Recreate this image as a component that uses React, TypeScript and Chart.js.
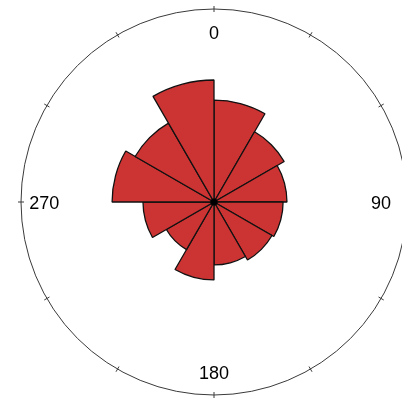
import React, { useEffect, useRef } from "react";
import { Chart, registerables } from "chart.js";

Chart.register(...registerables);

// 12 direction bins of 30° (clockwise from north)
const bins = ["0-30", "30-60", "60-90", "90-120", "120-150", "150-180", "180-210", "210-240", "240-270", "270-300", "300-330", "330-360"];
const values = [52.8, 42.0, 37.8, 35.8, 34.7, 32.6, 40.4, 28.5, 36.8, 52.8, 47.2, 63.2];
const scaleMax = 100;
const tickAngles = [0, 30, 60, 90, 120, 150, 180, 210, 240, 270, 300, 330];
const labelAngles = [0, 90, 180, 270];
const labelTexts = ["0", "90", "180", "270"];

const rosePlugin = {
  id: "roseDecor",
  afterDraw(chart: any) {
    const s = chart.scales.r;
    const ctx = chart.ctx;
    const cx = s.xCenter;
    const cy = s.yCenter;
    const R = s.drawingArea;
    ctx.save();
    // outer circle
    ctx.strokeStyle = "#3a3a3a";
    ctx.lineWidth = 1;
    ctx.beginPath();
    ctx.arc(cx, cy, R, 0, Math.PI * 2);
    ctx.stroke();
    // ticks
    tickAngles.forEach((a) => {
      const t = (a * Math.PI) / 180;
      const dx = Math.sin(t);
      const dy = -Math.cos(t);
      ctx.beginPath();
      ctx.moveTo(cx + dx * (R - 3), cy + dy * (R - 3));
      ctx.lineTo(cx + dx * (R + 3), cy + dy * (R + 3));
      ctx.stroke();
    });
    // labels
    ctx.fillStyle = "#000";
    ctx.font = "18px 'Liberation Sans', Arial, sans-serif";
    ctx.textAlign = "center";
    ctx.textBaseline = "middle";
    labelAngles.forEach((a, i) => {
      const t = (a * Math.PI) / 180;
      const lr = a === 90 ? R * 0.865 : R * 0.88;
      ctx.fillText(labelTexts[i], cx + Math.sin(t) * lr, cy - Math.cos(t) * lr + 2);
    });
    // center dot
    ctx.beginPath();
    ctx.arc(cx, cy, 3.6, 0, Math.PI * 2);
    ctx.fillStyle = "#000";
    ctx.fill();
    ctx.restore();
  },
};

export default function App() {
  const ref = useRef<HTMLCanvasElement | null>(null);
  useEffect(() => {
    if (!ref.current) return;
    const chart = new Chart(ref.current, {
      type: "polarArea",
      data: {
        labels: bins,
        datasets: [
          {
            data: values,
            backgroundColor: "#cc3333",
            borderColor: "#111111",
            borderWidth: 1.3,
          },
        ],
      },
      options: {
        responsive: false,
        animation: false,
        devicePixelRatio: 1,
        layout: { padding: { left: 21, top: 9, right: 13, bottom: 5 } },
        plugins: { legend: { display: false }, tooltip: { enabled: false } },
        scales: {
          r: {
            min: 0,
            max: scaleMax,
            startAngle: 0,
            ticks: { display: false },
            grid: { display: false },
            angleLines: { display: false },
            pointLabels: { display: false },
          },
        },
      },
      plugins: [rosePlugin],
    });
    return () => chart.destroy();
  }, []);
  return (
    <div style={{ position: "fixed", left: 0, top: 0, width: 402, height: 400, overflow: "hidden", background: "#fff" }}>
      <canvas ref={ref} width={420} height={400} style={{ display: "block" }} />
    </div>
  );
}
